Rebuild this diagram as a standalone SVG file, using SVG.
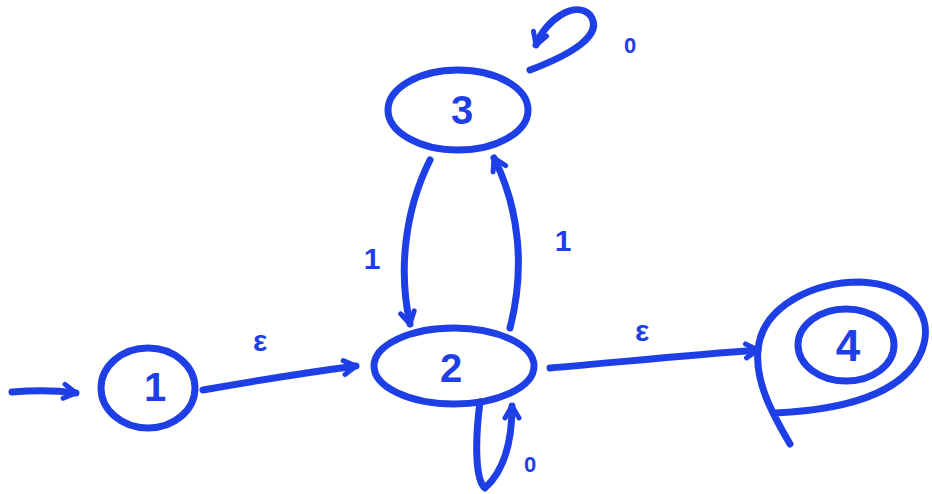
<svg xmlns="http://www.w3.org/2000/svg" width="932" height="494" viewBox="0 0 932 494">
<style>
.s{fill:none;stroke:#1f3fe6;stroke-width:7;stroke-linecap:round;stroke-linejoin:round}
.t{fill:#1f3fe6;font-family:"Liberation Sans",Arial,sans-serif;font-weight:bold;text-anchor:middle;dominant-baseline:central}
</style>
<defs>
<marker id="a" viewBox="0 0 20 20" refX="16" refY="10" markerWidth="20" markerHeight="20" markerUnits="userSpaceOnUse" orient="auto">
<path d="M4,3 L16,10 L4,17" fill="none" stroke="#1f3fe6" stroke-width="5" stroke-linecap="round" stroke-linejoin="round"/>
</marker>
</defs>
<rect width="932" height="494" fill="#ffffff"/>
<g id="n1">
<ellipse class="s" cx="148" cy="388" rx="47" ry="40"/>
<text class="t" x="155" y="387" font-size="40" font-weight="normal">1</text>
</g>
<g id="n2">
<ellipse class="s" cx="454" cy="366" rx="80" ry="38"/>
<text class="t" x="451" y="368" font-size="40">2</text>
</g>
<g id="n3">
<ellipse class="s" cx="458" cy="110" rx="70" ry="40"/>
<text class="t" x="462" y="110" font-size="40">3</text>
</g>
<g id="n4">
<path class="s" d="M790,444 C770,410 755,380 758,350 C762,305 815,282 860,282 C910,284 935,315 922,350 C905,395 840,410 775,413"/>
<ellipse class="s" cx="846" cy="345" rx="48" ry="36"/>
<text class="t" x="848" y="345" font-size="44">4</text>
</g>
<g id="edges">
<path class="s" marker-end="url(#a)" d="M12,392 C35,390 55,390 76,393"/>
<path class="s" marker-end="url(#a)" d="M203,390 C260,380 310,372 356,366"/>
<text class="t" x="260" y="340" font-size="30">ε</text>
<path class="s" marker-end="url(#a)" d="M430,160 C405,210 398,270 410,324"/>
<text class="t" x="372" y="258" font-size="30" font-weight="normal">1</text>
<path class="s" marker-end="url(#a)" d="M510,328 C525,270 520,210 494,158"/>
<text class="t" x="563" y="240" font-size="30" font-weight="normal">1</text>
<path class="s" marker-end="url(#a)" d="M530,70 C570,55 605,35 590,15 C575,0 545,20 536,45"/>
<text class="t" x="630" y="45" font-size="22">0</text>
<path class="s" marker-end="url(#a)" d="M480,402 C475,440 475,480 485,488 C505,470 512,440 512,406"/>
<text class="t" x="530" y="464" font-size="22">0</text>
<path class="s" marker-end="url(#a)" d="M550,368 C620,362 690,355 758,350"/>
<text class="t" x="642" y="330" font-size="30">ε</text>
</g>
</svg>
